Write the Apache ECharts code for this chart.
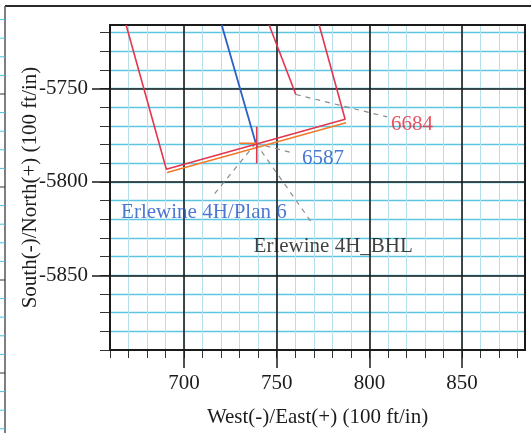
<!DOCTYPE html>
<html><head><meta charset="utf-8">
<script src="https://cdn.jsdelivr.net/npm/echarts@6/dist/echarts.min.js"></script>
<style>html,body{margin:0;padding:0;background:#fff}#c{width:531px;height:433px}</style>
</head><body><div id="c"></div>
<script>
// ---- data ----
const xRange = [660, 884];
const yRange = [-5890, -5716];
const xMajorTicks = [700, 750, 800, 850];
const yMajorTicks = [-5850, -5800, -5750];
const minorStep = 10;

const leaseBoundary = [[668.7, -5716], [690.4, -5793.2], [786.9, -5766.5], [772.9, -5716]];
const hardLineInner = [[690.8, -5795.0], [787.4, -5768.3]];
const planWell = [[720.3, -5716], [738.7, -5779.3]];
const offsetWell6684 = [[745.9, -5716], [760.3, -5753.2]];
const targetVertical = [[739.2, -5770.5], [739.2, -5790]];
const targetHorizontal = [[729.7, -5779.3], [738.9, -5779.3]];
const leader6684 = [[760.3, -5753.2], [809.6, -5765.2]];
const leader6587 = [[738.7, -5779.3], [759.4, -5784.7]];
const leaderPlan = [[738.7, -5779.3], [715.1, -5808]];
const leaderBHL = [[738.7, -5779.3], [768.5, -5821.3]];

const labelNames = ['6684', '6587', 'Erlewine 4H/Plan 6', 'Erlewine 4H_BHL'];
const labelX = [811.7, 763.7, 666.0, 737.5];
const labelY = [-5769.0, -5787.7, -5816.4, -5834.7];
const labelColors = ['#e0283a', '#1f55c4', '#1f55c4', '#111111'];

// ---- helpers ----
function range(a, b, s) { const r = []; for (let v = a; v <= b + 1e-9; v += s) r.push(v); return r; }
const xMinor = range(Math.ceil(xRange[0] / minorStep) * minorStep, xRange[1], minorStep);
const yMinor = range(Math.ceil(yRange[0] / minorStep) * minorStep, yRange[1], minorStep);

const FONT = 'Liberation Serif';
const txt = '#1c1c1c';
const plain = v => String(v);

function lineSeries(data, color, width, dashed) {
  return {
    type: 'line', data: data, xAxisIndex: 0, yAxisIndex: 0, symbol: 'none', z: 5, clip: true,
    silent: true, animation: false,
    lineStyle: { color: color, width: width, type: dashed ? [5, 5] : 'solid' }
  };
}

const chart = echarts.init(document.getElementById('c'), null, { renderer: 'canvas' });

// decorative outer frame (from the scanned page)
const frame = [
  { type: 'line', shape: { x1: 5, y1: 6, x2: 531, y2: 6 }, style: { stroke: '#2a2a2a', lineWidth: 2 }, silent: true },
  { type: 'line', shape: { x1: 5, y1: 6, x2: 5, y2: 433 }, style: { stroke: '#555', lineWidth: 1.5 }, silent: true }
];
for (let k = -4; k <= 18; k++) {
  const y = 94 + k * 18.6;
  if (y < 8 || y > 433) continue;
  frame.push({ type: 'line', shape: { x1: 0, y1: y, x2: 5, y2: y },
    style: { stroke: (k % 5 === 0) ? '#333' : '#4fc1dc', lineWidth: 1 }, silent: true });
}

const minorX = {
  type: 'value', min: xRange[0], max: xRange[1], position: 'bottom', z: 1,
  axisLine: { show: true, onZero: false, lineStyle: { color: '#1a1a1a', width: 2 } },
  axisTick: { show: true, customValues: xMinor, length: 8, lineStyle: { color: '#333', width: 1 } },
  axisLabel: { show: false },
  splitLine: { show: true, showMinLine: false, lineStyle: { color: '#b3e0ea', width: 1 } }
};
const majorX = {
  type: 'value', min: xRange[0], max: xRange[1], position: 'bottom', z: 2,
  axisLine: { show: false, onZero: false },
  axisTick: { show: true, customValues: xMajorTicks, length: 18, lineStyle: { color: '#1a1a1a', width: 1.5 } },
  axisLabel: { show: true, customValues: xMajorTicks, formatter: plain, margin: 23, color: txt, fontFamily: FONT, fontSize: 21 },
  splitLine: { show: true, lineStyle: { color: '#1a1a1a', width: 1.6 } },
  name: 'West(-)/East(+) (100 ft/in)', nameLocation: 'middle', nameGap: 57, nameMoveOverlap: false,
  nameTextStyle: { color: txt, fontFamily: FONT, fontSize: 21 }
};
const minorY = {
  type: 'value', min: yRange[0], max: yRange[1], position: 'left', z: 1,
  axisLine: { show: true, onZero: false, lineStyle: { color: '#1a1a1a', width: 2 } },
  axisTick: { show: true, customValues: yMinor, length: 10, lineStyle: { color: '#333', width: 1 } },
  axisLabel: { show: false },
  splitLine: { show: true, showMinLine: false, lineStyle: { color: '#5cc6e0', width: 1.4 } }
};
const majorY = {
  type: 'value', min: yRange[0], max: yRange[1], position: 'left', z: 2,
  axisLine: { show: false, onZero: false },
  axisTick: { show: true, customValues: yMajorTicks, length: 18, lineStyle: { color: '#1a1a1a', width: 1.5 } },
  axisLabel: { show: true, customValues: yMajorTicks, formatter: plain, margin: 22, color: txt, fontFamily: FONT, fontSize: 21 },
  splitLine: { show: true, lineStyle: { color: '#1a1a1a', width: 1.6 } },
  name: 'South(-)/North(+) (100 ft/in)', nameLocation: 'middle', nameGap: 69, nameRotate: 90, nameMoveOverlap: false,
  nameTextStyle: { color: txt, fontFamily: FONT, fontSize: 21 }
};

const labelData = labelNames.map((n, i) => ({
  name: n, value: [labelX[i], labelY[i]],
  label: { color: labelColors[i] }
}));

chart.setOption({
  animation: false,
  backgroundColor: '#fff',
  graphic: frame,
  grid: { left: 110, top: 25, right: 6, bottom: 83, containLabel: false, outerBoundsMode: 'none',
    show: true, borderColor: '#1a1a1a', borderWidth: 2, backgroundColor: 'transparent', z: 3 },
  xAxis: [minorX, majorX],
  yAxis: [minorY, majorY],
  series: [
    lineSeries(leader6684, '#8c8c8c', 1.2, true),
    lineSeries(leader6587, '#8c8c8c', 1.2, true),
    lineSeries(leaderPlan, '#8c8c8c', 1.2, true),
    lineSeries(leaderBHL, '#8c8c8c', 1.2, true),
    lineSeries(leaseBoundary, '#e2364f', 1.6, false),
    lineSeries(hardLineInner, '#f07a28', 1.6, false),
    lineSeries(offsetWell6684, '#e2364f', 1.6, false),
    lineSeries(planWell, '#2b5fc6', 1.8, false),
    lineSeries(targetVertical, '#e2364f', 1.6, false),
    lineSeries(targetHorizontal, '#f07a28', 1.6, false),
    {
      type: 'scatter', data: labelData, symbolSize: 0, z: 6, silent: true, animation: false,
      label: { show: true, position: 'right', distance: 0, formatter: '{b}', fontFamily: FONT, fontSize: 21,
        textBorderWidth: 0 }
    }
  ]
});
</script>
</body></html>
